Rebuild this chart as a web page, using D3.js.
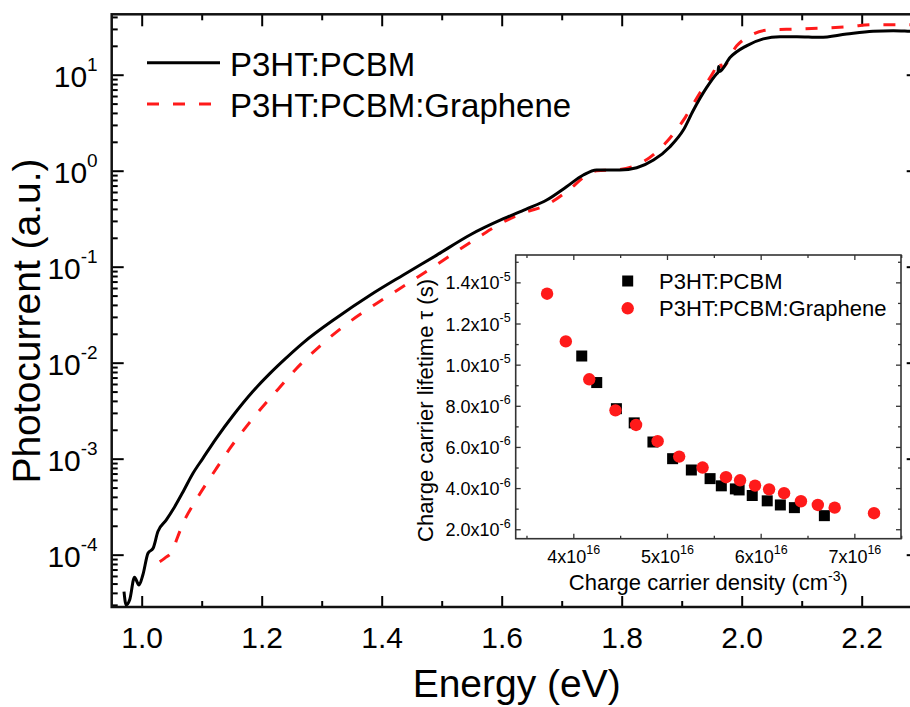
<!DOCTYPE html>
<html>
<head>
<meta charset="utf-8">
<script src="https://cdn.jsdelivr.net/npm/d3@7"></script>
<style>
  html, body { margin: 0; padding: 0; background: #fff; }
  svg { display: block; font-family: "Liberation Sans", Arial, sans-serif; }
</style>
</head>
<body>
<svg id="chart" width="910" height="707"></svg>
<script>
// Photocurrent spectra (energy in eV, photocurrent in a.u.)
const energyRef = [0.9705, 0.974, 0.980, 0.988, 0.9955, 1.002, 1.0105, 1.019, 1.027, 1.041, 1.055, 1.069,
  1.0855, 1.102, 1.124, 1.152, 1.1855, 1.213, 1.2355, 1.269, 1.325, 1.3805, 1.436, 1.4917, 1.547, 1.603,
  1.640, 1.675, 1.708, 1.736, 1.758, 1.797, 1.825, 1.853, 1.8805, 1.9027, 1.919, 1.9417, 1.958, 1.9605,
  1.9615, 1.963, 1.9805, 2.008, 2.036, 2.064, 2.092, 2.1305, 2.175, 2.219, 2.2527, 2.2805, 2.30];
const photocurrentRef = [4.12e-5, 2.99e-5, 3.39e-5, 5.82e-5, 4.83e-5, 6.17e-5, 1.035e-4, 1.167e-4, 1.74e-4,
  2.30e-4, 3.16e-4, 4.53e-4, 7.05e-4, 1.009e-3, 1.62e-3, 2.80e-3, 5.04e-3, 7.64e-3, 1.043e-2, 1.61e-2,
  2.94e-2, 5.04e-2, 8.20e-2, 0.132, 0.214, 0.316, 0.396, 0.495, 0.681, 0.902, 1.016, 1.016, 1.074, 1.29,
  1.78, 2.65, 4.22, 7.38, 10.2, 10.6, 12.2, 10.8, 15.1, 20.0, 23.6, 24.9, 24.9, 24.5, 26.5, 28.3, 28.7,
  28.3, 28.0];

const energyGr = [1.030, 1.038, 1.052, 1.058, 1.069, 1.091, 1.116, 1.124, 1.147, 1.18, 1.213, 1.227, 1.258,
  1.297, 1.342, 1.392, 1.447, 1.5027, 1.558, 1.610, 1.640, 1.675, 1.708, 1.747, 1.758, 1.797, 1.836, 1.875,
  1.906, 1.931, 1.9527, 1.963, 1.967, 1.9917, 2.019, 2.047, 2.092, 2.136, 2.1805, 2.219, 2.2805, 2.30];
const photocurrentGr = [8.45e-5, 9.16e-5, 1.12e-4, 1.42e-4, 2.12e-4, 3.74e-4, 6.58e-4, 7.83e-4, 1.28e-3,
  2.39e-3, 4.20e-3, 5.26e-3, 8.71e-3, 1.49e-2, 2.54e-2, 4.16e-2, 6.90e-2, 0.1167, 0.197, 0.308, 0.37, 0.44,
  0.604, 0.94, 1.0, 1.03, 1.24, 2.0, 3.6, 6.56, 10.6, 14.0, 11.9, 20.0, 26.5, 29.4, 29.9, 30.6, 31.8, 33.2,
  33.2, 33.2];

// Inset: charge carrier lifetime versus charge carrier density
const densityRef = [4.09e16, 4.25e16, 4.46e16, 4.65e16, 4.85e16, 5.06e16, 5.26e16, 5.46e16, 5.58e16,
  5.73e16, 5.77e16, 5.91e16, 6.07e16, 6.21e16, 6.36e16, 6.68e16];
const lifetimeRef = [1.042e-5, 9.13e-6, 7.86e-6, 7.17e-6, 6.24e-6, 5.43e-6, 4.88e-6, 4.46e-6, 4.11e-6,
  3.96e-6, 3.91e-6, 3.64e-6, 3.38e-6, 3.18e-6, 3.05e-6, 2.66e-6];
const densityGr = [3.72e16, 3.92e16, 4.17e16, 4.45e16, 4.67e16, 4.90e16, 5.13e16, 5.38e16, 5.63e16,
  5.78e16, 5.94e16, 6.09e16, 6.25e16, 6.43e16, 6.61e16, 6.79e16, 7.21e16];
const lifetimeGr = [1.345e-5, 1.113e-5, 9.29e-6, 7.78e-6, 7.07e-6, 6.28e-6, 5.53e-6, 5.00e-6, 4.53e-6,
  4.38e-6, 4.12e-6, 3.94e-6, 3.75e-6, 3.36e-6, 3.18e-6, 3.05e-6, 2.78e-6];

// Ticks
const energyTicks = [1.0, 1.2, 1.4, 1.6, 1.8, 2.0, 2.2];
const energyMinorTicks = [1.1, 1.3, 1.5, 1.7, 1.9, 2.1, 2.3];
const decadeExponents = [-4, -3, -2, -1, 0, 1];
const densityTicks = [4e16, 5e16, 6e16, 7e16];
const densityMinorTicks = [3.5e16, 4.5e16, 5.5e16, 6.5e16, 7.5e16];
const lifetimeTicks = [2e-6, 4e-6, 6e-6, 8e-6, 1.0e-5, 1.2e-5, 1.4e-5];
const lifetimeTickLabels = ["2.0", "4.0", "6.0", "8.0", "1.0", "1.2", "1.4"];
const lifetimeTickExps = ["-6", "-6", "-6", "-6", "-5", "-5", "-5"];
const lifetimeMinorTicks = [3e-6, 5e-6, 7e-6, 9e-6, 1.1e-5, 1.3e-5, 1.5e-5];

const seriesNames = ["P3HT:PCBM", "P3HT:PCBM:Graphene"];
const RED = "#ff1a1a";

const svg = d3.select("#chart");

// ---------- main panel ----------
const M = { left: 111.7, right: 921.7, top: 14.3, bottom: 607 };
const x = d3.scaleLinear().domain([0.95, 2.3]).range([M.left, M.right]);
const y = d3.scaleLog().domain([2.85e-5, 42.6]).range([M.bottom, M.top]);

const majorY = decadeExponents.map(e => Math.pow(10, e));
const minorY = [];
for (let e = -5; e <= 1; e++) for (let m = 2; m <= 9; m++) {
  const v = m * Math.pow(10, e);
  if (v >= 2.85e-5 && v <= 42.6) minorY.push(v);
}

svg.append("defs").append("clipPath").attr("id", "plotClip")
  .append("rect").attr("x", M.left).attr("y", M.top)
  .attr("width", M.right - M.left).attr("height", M.bottom - M.top);

function styleAxis(g, w) {
  g.select(".domain").remove();
  g.selectAll(".tick line").attr("stroke", "#000").attr("stroke-width", w);
}

// bottom
svg.append("g").attr("transform", `translate(0,${M.bottom})`)
  .call(d3.axisBottom(x).tickValues(energyTicks).tickSizeInner(-11).tickSizeOuter(0)
    .tickPadding(20).tickFormat(d3.format(".1f")))
  .call(g => styleAxis(g, 2))
  .call(g => g.selectAll(".tick text").attr("font-size", 30).attr("fill", "#000")
    .attr("y", 41).attr("dy", 0));
svg.append("g").attr("transform", `translate(0,${M.bottom})`)
  .call(d3.axisBottom(x).tickValues(energyMinorTicks).tickSizeInner(-6).tickSizeOuter(0).tickFormat(""))
  .call(g => styleAxis(g, 2));
// top
svg.append("g").attr("transform", `translate(0,${M.top})`)
  .call(d3.axisTop(x).tickValues(energyTicks).tickSizeInner(-12).tickSizeOuter(0).tickFormat(""))
  .call(g => styleAxis(g, 2));
svg.append("g").attr("transform", `translate(0,${M.top})`)
  .call(d3.axisTop(x).tickValues(energyMinorTicks).tickSizeInner(-6).tickSizeOuter(0).tickFormat(""))
  .call(g => styleAxis(g, 2));
// left
svg.append("g").attr("transform", `translate(${M.left},0)`)
  .call(d3.axisLeft(y).tickValues(majorY).tickSizeInner(-12).tickSizeOuter(0).tickPadding(12).tickFormat(""))
  .call(g => styleAxis(g, 2))
  .call(g => g.selectAll(".tick text").each(function (d) {
    const t = d3.select(this).attr("font-size", 30).attr("fill", "#000")
      .attr("x", -14).attr("dy", 0).attr("y", 12).attr("text-anchor", "end");
    t.append("tspan").text("10");
    t.append("tspan").attr("font-size", 19).attr("dy", -16).text(String(Math.round(Math.log10(d))));
  }));
svg.append("g").attr("transform", `translate(${M.left},0)`)
  .call(d3.axisLeft(y).tickValues(minorY).tickSizeInner(-6).tickSizeOuter(0).tickFormat(""))
  .call(g => styleAxis(g, 2));
// right
svg.append("g").attr("transform", `translate(${M.right},0)`)
  .call(d3.axisRight(y).tickValues(majorY).tickSizeInner(-15).tickSizeOuter(0).tickFormat(""))
  .call(g => styleAxis(g, 2));
svg.append("g").attr("transform", `translate(${M.right},0)`)
  .call(d3.axisRight(y).tickValues(minorY).tickSizeInner(-6).tickSizeOuter(0).tickFormat(""))
  .call(g => styleAxis(g, 2));

// frame
svg.append("rect").attr("x", M.left).attr("y", M.top)
  .attr("width", M.right - M.left).attr("height", M.bottom - M.top)
  .attr("fill", "none").attr("stroke", "#111").attr("stroke-width", 2.5);

// curves
const line = d3.line().x(d => x(d[0])).y(d => y(d[1])).curve(d3.curveMonotoneX);
const curves = svg.append("g").attr("clip-path", "url(#plotClip)");
curves.append("path").datum(d3.zip(energyGr, photocurrentGr))
  .attr("d", line).attr("fill", "none").attr("stroke", RED).attr("stroke-width", 3)
  .attr("stroke-dasharray", "12,14");
curves.append("path").datum(d3.zip(energyRef, photocurrentRef))
  .attr("d", line).attr("fill", "none").attr("stroke", "#000").attr("stroke-width", 3)
  .attr("stroke-linejoin", "round");

// axis titles
svg.append("text").attr("x", (M.left + M.right) / 2).attr("y", 697)
  .attr("text-anchor", "middle").attr("font-size", 39).attr("fill", "#000").text("Energy (eV)");
svg.append("text").attr("transform", "translate(40,321) rotate(-90)")
  .attr("text-anchor", "middle").attr("font-size", 39).attr("fill", "#000").text("Photocurrent (a.u.)");

// legend
const leg = svg.append("g");
leg.append("line").attr("x1", 147).attr("x2", 220).attr("y1", 62.7).attr("y2", 62.7)
  .attr("stroke", "#000").attr("stroke-width", 3);
leg.append("line").attr("x1", 147).attr("x2", 211).attr("y1", 104).attr("y2", 104)
  .attr("stroke", RED).attr("stroke-width", 3).attr("stroke-dasharray", "12,14");
leg.append("text").attr("x", 230).attr("y", 76).attr("font-size", 33).attr("fill", "#000").text(seriesNames[0]);
leg.append("text").attr("x", 230).attr("y", 116.5).attr("font-size", 33).attr("fill", "#000").text(seriesNames[1]);

// ---------- inset ----------
const I = { left: 515.7, right: 901, top: 255, bottom: 538.7 };
const xi = d3.scaleLinear().domain([3.385e16, 7.498e16]).range([I.left, I.right]);
const yi = d3.scaleLinear().domain([1.54e-6, 15.33e-6]).range([I.bottom, I.top]);

svg.append("rect").attr("x", I.left).attr("y", I.top)
  .attr("width", I.right - I.left).attr("height", I.bottom - I.top).attr("fill", "#fff");

const INK = "#333";
function styleInset(g) {
  g.select(".domain").remove();
  g.selectAll(".tick line").attr("stroke", INK).attr("stroke-width", 1.3);
}
svg.append("g").attr("transform", `translate(0,${I.bottom})`)
  .call(d3.axisBottom(xi).tickValues(densityTicks).tickSizeInner(-5).tickSizeOuter(0).tickFormat(""))
  .call(styleInset)
  .call(g => g.selectAll(".tick text").each(function (d) {
    const t = d3.select(this).attr("font-size", 18).attr("fill", "#000")
      .attr("y", 24.5).attr("dy", 0).attr("text-anchor", "middle");
    t.append("tspan").text(String(Math.round(d / 1e16)) + "x10");
    t.append("tspan").attr("font-size", 12.5).attr("dy", -9).text("16");
  }));
svg.append("g").attr("transform", `translate(0,${I.bottom})`)
  .call(d3.axisBottom(xi).tickValues(densityMinorTicks).tickSizeInner(-3).tickSizeOuter(0).tickFormat(""))
  .call(styleInset);
svg.append("g").attr("transform", `translate(0,${I.top})`)
  .call(d3.axisTop(xi).tickValues(densityTicks).tickSizeInner(-5).tickSizeOuter(0).tickFormat(""))
  .call(styleInset);
svg.append("g").attr("transform", `translate(0,${I.top})`)
  .call(d3.axisTop(xi).tickValues(densityMinorTicks).tickSizeInner(-3).tickSizeOuter(0).tickFormat(""))
  .call(styleInset);
svg.append("g").attr("transform", `translate(${I.left},0)`)
  .call(d3.axisLeft(yi).tickValues(lifetimeTicks).tickSizeInner(-5).tickSizeOuter(0).tickFormat(""))
  .call(styleInset)
  .call(g => g.selectAll(".tick text").each(function (d, i) {
    const t = d3.select(this).attr("font-size", 18).attr("fill", "#000")
      .attr("x", -5).attr("y", 6.5).attr("dy", 0).attr("text-anchor", "end");
    t.append("tspan").text(lifetimeTickLabels[i] + "x10");
    t.append("tspan").attr("font-size", 12.5).attr("dy", -8.5).text(lifetimeTickExps[i]);
  }));
svg.append("g").attr("transform", `translate(${I.left},0)`)
  .call(d3.axisLeft(yi).tickValues(lifetimeMinorTicks).tickSizeInner(-3).tickSizeOuter(0).tickFormat(""))
  .call(styleInset);
svg.append("g").attr("transform", `translate(${I.right},0)`)
  .call(d3.axisRight(yi).tickValues(lifetimeTicks).tickSizeInner(-5).tickSizeOuter(0).tickFormat(""))
  .call(styleInset);
svg.append("g").attr("transform", `translate(${I.right},0)`)
  .call(d3.axisRight(yi).tickValues(lifetimeMinorTicks).tickSizeInner(-3).tickSizeOuter(0).tickFormat(""))
  .call(styleInset);

svg.append("rect").attr("x", I.left).attr("y", I.top)
  .attr("width", I.right - I.left).attr("height", I.bottom - I.top)
  .attr("fill", "none").attr("stroke", INK).attr("stroke-width", 1.6);

// inset markers
const SQ = 11;
svg.append("g").selectAll("rect").data(d3.zip(densityRef, lifetimeRef)).join("rect")
  .attr("x", d => xi(d[0]) - SQ / 2).attr("y", d => yi(d[1]) - SQ / 2)
  .attr("width", SQ).attr("height", SQ).attr("fill", "#000");
svg.append("g").selectAll("circle").data(d3.zip(densityGr, lifetimeGr)).join("circle")
  .attr("cx", d => xi(d[0])).attr("cy", d => yi(d[1])).attr("r", 6.2).attr("fill", RED);

// inset legend
svg.append("rect").attr("x", 627.7 - SQ / 2).attr("y", 281 - SQ / 2).attr("width", SQ).attr("height", SQ).attr("fill", "#000");
svg.append("circle").attr("cx", 627.7).attr("cy", 308.3).attr("r", 6.2).attr("fill", RED);
svg.append("text").attr("x", 659).attr("y", 288.5).attr("font-size", 22).attr("fill", "#000").text(seriesNames[0]);
svg.append("text").attr("x", 659).attr("y", 315.5).attr("font-size", 22).attr("fill", "#000").text(seriesNames[1]);

// inset axis titles
const xt = svg.append("text").attr("x", (I.left + I.right) / 2).attr("y", 590)
  .attr("text-anchor", "middle").attr("font-size", 22).attr("fill", "#000");
xt.append("tspan").text("Charge carrier density (cm");
xt.append("tspan").attr("font-size", 14).attr("dy", -9).text("-3");
xt.append("tspan").attr("dy", 9).text(")");

svg.append("text").attr("transform", "translate(433,410.5) rotate(-90)")
  .attr("text-anchor", "middle").attr("font-size", 22).attr("fill", "#000")
  .text("Charge carrier lifetime τ (s)");
</script>
</body>
</html>
